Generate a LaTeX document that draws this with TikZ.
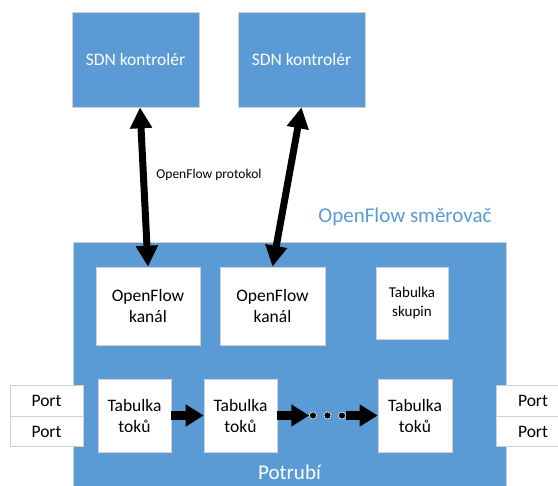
\documentclass[tikz,border=0pt]{standalone}
\usepackage{fontspec}
\setmainfont{Carlito}
\usetikzlibrary{arrows.meta}
\definecolor{ofblue}{HTML}{5B9BD5}
\definecolor{boxgray}{HTML}{D0D0D0}
\tikzset{
  ctrl/.style={fill=ofblue, draw=boxgray, line width=0.6pt, text=white, minimum width=127pt, minimum height=95pt, font=\fontsize{17.5}{21}\selectfont, inner sep=0pt},
  wbox/.style={fill=white, draw=boxgray, line width=0.6pt, text=black, align=center, font=\fontsize{17.5}{21}\selectfont, inner sep=0pt},
  portbox/.style={fill=white, draw=boxgray, line width=0.8pt, minimum width=73pt, minimum height=30.5pt, font=\fontsize{17.5}{21}\selectfont, inner sep=0pt},
  bigarrow/.style={line width=7pt, {Triangle[width=21pt,length=21pt]}-{Triangle[width=21pt,length=21pt]}},
  flowarrow/.style={line width=9pt, -{Triangle[width=21pt,length=18pt]}},
  dot/.style={circle, fill=black, draw=white, line width=0.5pt, minimum size=7pt, inner sep=0pt}
}
\begin{document}
\begin{tikzpicture}[x=1pt,y=-1pt]
\useasboundingbox (0,0) rectangle (558,486);
\clip (0,0) rectangle (558,486);
\fill[white] (0,0) rectangle (558,486);
% controllers
\node[ctrl] (c1) at (135.5,59.5) {SDN kontrolér};
\node[ctrl] (c2) at (301.5,59.5) {SDN kontrolér};
% switch
\node[fill=ofblue, draw=boxgray, line width=0.6pt, minimum width=433pt, minimum height=252pt, inner sep=0pt] (sw) at (289.5,368) {};
\node[text=ofblue, font=\fontsize{21}{25}\selectfont] (swlabel) at (405,217) {OpenFlow směrovač};
\node[text=white, font=\fontsize{21}{25}\selectfont] (pipe) at (289.5,472) {Potrubí};
% channels and group table
\node[wbox, minimum width=104pt, minimum height=78pt] (k1) at (148,306) {OpenFlow\\kanál};
\node[wbox, minimum width=105pt, minimum height=78pt] (k2) at (272.5,306) {OpenFlow\\kanál};
\node[wbox, minimum width=72pt, minimum height=72pt, font=\fontsize{15}{19}\selectfont] (g) at (412,303) {Tabulka\\skupin};
% flow tables
\node[wbox, minimum width=73pt, minimum height=73pt] (t1) at (134.5,415.5) {Tabulka\\toků};
\node[wbox, minimum width=73pt, minimum height=73pt] (t2) at (240.5,415.5) {Tabulka\\toků};
\node[wbox, minimum width=74pt, minimum height=73pt] (t3) at (415,415.5) {Tabulka\\toků};
% ports
\node[portbox] (pl1) at (46.5,401) {Port};
\node[portbox] (pl2) at (46.5,431.5) {Port};
\node[portbox] (pr1) at (533,401) {Port};
\node[portbox] (pr2) at (533,431.5) {Port};
% dots
\node[dot] (d1) at (313,415.5) {};
\node[dot] (d2) at (327.5,415.5) {};
\node[dot] (d3) at (342,415.5) {};
% arrows
\draw[bigarrow] ([xshift=4.5pt]c1.south) -- (k1.north);
\draw[bigarrow] (c2.south) -- (k2.north);
\node[font=\fontsize{13.5}{16}\selectfont] (proto) at (209,175) {OpenFlow protokol};
\draw[flowarrow] (t1.east) -- (t2.west);
\draw[flowarrow] (t2.east) -- (d1.west);
\draw[flowarrow] (d3.east) -- (t3.west);
\end{tikzpicture}
\end{document}
